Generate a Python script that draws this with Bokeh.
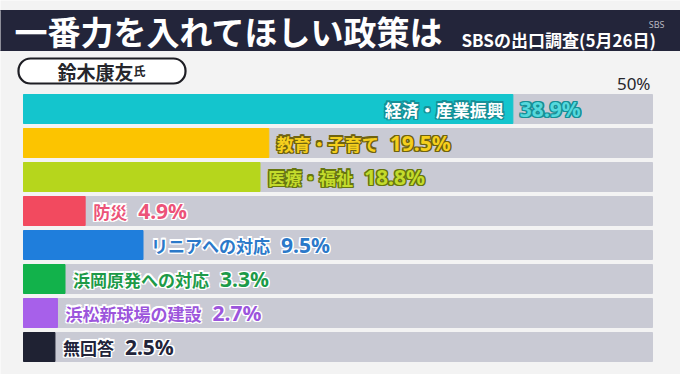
from bokeh.plotting import figure
from bokeh.models import Range1d, BoxAnnotation, ColumnDataSource
from bokeh.embed import file_html
from bokeh.resources import INLINE
from bokeh.core.properties import value

# ---------------- data ----------------
categories = ["経済・産業振興", "教育・子育て", "医療・福祉", "防災",
              "リニアへの対応", "浜岡原発への対応", "浜松新球場の建設", "無回答"]
values = [38.9, 19.5, 18.8, 4.9, 9.5, 3.3, 2.7, 2.5]
value_labels = ["38.9%", "19.5%", "18.8%", "4.9%", "9.5%", "3.3%", "2.7%", "2.5%"]
bar_colors = ["#14c5cd", "#fcc400", "#b6d61c", "#f24a5f",
              "#1f7edc", "#12b24b", "#a760ea", "#1f2233"]
text_colors = ["#ffffff", "#f5cf1d", "#c3db2c", "#ec5379",
               "#2b79c9", "#1d9a48", "#9c55dc", "#22243a"]
value_colors = ["#55d8dc", "#f5cf1d", "#c3db2c", "#ec5379",
                "#2b79c9", "#1d9a48", "#9c55dc", "#22243a"]
outline_colors = ["#178f96", "#6f6310", "#67760f", "#ffffff",
                  "#ffffff", "#ffffff", "#ffffff", "#ffffff"]
scale_max = 50
scale_label = "50%"
title = "一番力を入れてほしい政策は"
subtitle = "SBSの出口調査(5月26日)"
candidate = "鈴木康友"
honorific = "氏"
watermark = "SBS"

# ---------------- layout helpers ----------------
W, H = 680, 374
PX_PER = 12.58      # pixels per percent
X0 = 23             # px of 0 %
ROW0 = 108.5        # px of first row centre
PITCH = 34          # row pitch in px


def X(px):
    return (px - X0) / PX_PER


def Y(py):
    return (py - ROW0) / PITCH


BG = "#f3f3f3"
TRACK = "#c9cad4"
NAVY = "#23253a"
JP = "Noto Sans CJK JP"
NUM = "Noto Sans"

p = figure(width=W, height=H,
           x_range=Range1d(X(0), X(W)),
           y_range=Range1d(Y(H), Y(0)),
           x_axis_location=None, y_axis_location=None,
           toolbar_location=None, output_backend="svg",
           min_border=0, background_fill_color=BG, border_fill_color=BG,
           outline_line_color=None)
p.grid.visible = False

# title band
p.quad(left=X(-5), right=X(W + 5), top=Y(10), bottom=Y(50), color=NAVY)
p.text(x=[X(14)], y=[Y(30)], text=[title], text_color="#ffffff",
       text_font=value(JP), text_font_style="bold", text_font_size="33px",
       text_baseline="middle", text_align="left")
p.text(x=[X(461)], y=[Y(39)], text=[subtitle], text_color="#ffffff",
       text_font=value(JP), text_font_style="bold", text_font_size="17px",
       text_baseline="middle", text_align="left")
p.text(x=[X(664)], y=[Y(24)], text=[watermark], text_color="#b8b8c0",
       text_font=value(NUM), text_font_size="9px",
       text_baseline="middle", text_align="right")

# candidate pill
pill = BoxAnnotation(left=X(18), right=X(185), top=Y(58), bottom=Y(83),
                     fill_color="#ffffff", fill_alpha=1.0,
                     line_color="#1e1e24", line_alpha=1.0, line_width=2.2,
                     border_radius=12, level="underlay")
p.add_layout(pill)
p.text(x=[X(57)], y=[Y(71)], text=[candidate], text_color="#26262c",
       text_font=value(JP), text_font_style="bold", text_font_size="19px",
       text_baseline="middle", text_align="left")
p.text(x=[X(133)], y=[Y(78)], text=[honorific], text_color="#26262c",
       text_font=value(JP), text_font_style="bold", text_font_size="12px",
       text_baseline="bottom", text_align="left")

# scale label
p.text(x=[scale_max], y=[Y(83)], text=[scale_label], text_color="#26262c",
       text_font=value(NUM), text_font_size="17px", text_baseline="middle",
       text_align="right", x_offset=-2)

# bars
idx = list(range(len(categories)))
bh = 29 / PITCH
p.hbar(y=idx, left=0, right=[scale_max] * len(idx), height=bh, color=TRACK)
p.hbar(y=idx, left=0, right=values, height=bh, color=bar_colors)


def outlined(xs, ys, texts, xoffs, fills, strokes, size, font, align):
    d = 1.3
    for dx, dy in [(-d, 0), (d, 0), (0, -d), (0, d),
                   (-d, -d), (d, -d), (-d, d), (d, d)]:
        src = ColumnDataSource(dict(x=xs, y=ys, t=texts,
                                    xo=[o + dx for o in xoffs], c=strokes))
        p.text(x="x", y="y", text="t", x_offset="xo", y_offset=dy,
               text_color="c", source=src, text_font=value(font),
               text_font_style="bold", text_font_size=size,
               text_baseline="middle", text_align=align)
    src = ColumnDataSource(dict(x=xs, y=ys, t=texts, xo=xoffs, c=fills))
    p.text(x="x", y="y", text="t", x_offset="xo", text_color="c",
           source=src, text_font=value(font), text_font_style="bold",
           text_font_size=size, text_baseline="middle", text_align=align)


CAT_PX = 17
inside = [i for i in idx if values[i] > 30]
outside = [i for i in idx if values[i] <= 30]

# inside labels (category in bar, value after bar)
outlined([values[i] for i in inside], inside, [categories[i] for i in inside],
         [-9] * len(inside), [text_colors[i] for i in inside],
         [outline_colors[i] for i in inside], f"{CAT_PX}px", JP, "right")
outlined([values[i] for i in inside], inside, [value_labels[i] for i in inside],
         [7] * len(inside), [value_colors[i] for i in inside],
         ["#178f96"] * len(inside), "21px", NUM, "left")

# outside labels
outlined([values[i] for i in outside], outside, [categories[i] for i in outside],
         [8] * len(outside), [text_colors[i] for i in outside],
         [outline_colors[i] for i in outside], f"{CAT_PX}px", JP, "left")
outlined([values[i] for i in outside], outside, [value_labels[i] for i in outside],
         [8 + CAT_PX * len(categories[i]) + 11 for i in outside],
         [value_colors[i] for i in outside],
         [outline_colors[i] for i in outside], "21px", NUM, "left")

open("out.html", "w").write(file_html(p, INLINE))
